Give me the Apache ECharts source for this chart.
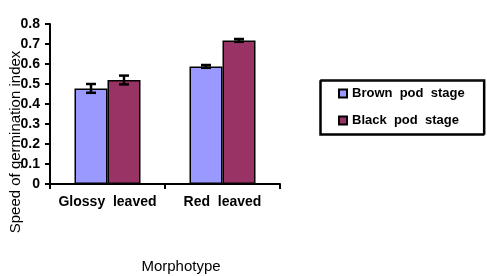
<!DOCTYPE html>
<html>
<head>
<meta charset="utf-8">
<script src="https://cdn.jsdelivr.net/npm/echarts@6/dist/echarts.min.js"></script>
<style>html,body{margin:0;padding:0;background:#fff}#c{width:487px;height:276px}</style>
</head>
<body>
<div id="c"></div>
<script>
var categories = ['Glossy leaved', 'Red leaved'];
var seriesNames = ['Brown pod stage', 'Black pod stage'];
var brownValues = [0.478, 0.588];
var blackValues = [0.520, 0.718];
var brownErrors = [0.022, 0.007];
var blackErrors = [0.022, 0.007];
var yTickLabels = ['0', '0.1', '0.2', '0.3', '0.4', '0.5', '0.6', '0.7', '0.8'];

var colors = ['#9999FF', '#993366'];
var barW = 33;
var font = 'Arial, "Liberation Sans", sans-serif';

function errSeries(values, errs, offset) {
  return {
    type: 'custom',
    silent: true,
    z: 10,
    data: values.map(function (v, i) { return [i, v, errs[i]]; }),
    renderItem: function (params, api) {
      var i = api.value(0), v = api.value(1), e = api.value(2);
      var hi = api.coord([i, v + e]);
      var lo = api.coord([i, v - e]);
      var x = hi[0] + offset;
      var cap = 5;
      var st = { stroke: '#000', lineWidth: 2.5 };
      return {
        type: 'group',
        children: [
          { type: 'line', shape: { x1: x, y1: hi[1], x2: x, y2: lo[1] }, style: st },
          { type: 'line', shape: { x1: x - cap, y1: hi[1], x2: x + cap, y2: hi[1] }, style: st },
          { type: 'line', shape: { x1: x - cap, y1: lo[1], x2: x + cap, y2: lo[1] }, style: st }
        ]
      };
    }
  };
}

var chart = echarts.init(document.getElementById('c'), null, { renderer: 'canvas' });
chart.setOption({
  animation: false,
  backgroundColor: '#fff',
  grid: { left: 50, top: 24, width: 230, height: 160 },
  legend: {
    data: seriesNames,
    orient: 'vertical',
    left: 321, top: 80,
    padding: [7, 20, 7, 17],
    itemGap: 14,
    itemWidth: 8, itemHeight: 8,
    icon: 'rect',
    backgroundColor: '#fff',
    borderColor: '#000', borderWidth: 1.5,
    shadowColor: '#000', shadowBlur: 0, shadowOffsetX: -1, shadowOffsetY: 1,
    textStyle: { fontFamily: font, fontWeight: 'bold', fontSize: 13, color: '#000' },
    formatter: function (n) { return n.replace(/ /g, '  '); }
  },
  xAxis: {
    type: 'category',
    data: categories,
    boundaryGap: true,
    axisLine: { lineStyle: { color: '#000', width: 2 } },
    axisTick: { show: true, length: 5, lineStyle: { color: '#000', width: 2 } },
    axisLabel: {
      interval: 0,
      fontFamily: font, fontWeight: 'bold', fontSize: 14, color: '#000', margin: 11,
      formatter: function (n) { return n.replace(/ /g, '  '); }
    }
  },
  yAxis: {
    type: 'value',
    min: 0, max: 0.8, interval: 0.1,
    splitLine: { show: false },
    axisLine: { show: true, lineStyle: { color: '#000', width: 2 } },
    axisTick: { show: true, length: 5, lineStyle: { color: '#000', width: 2 } },
    axisLabel: {
      fontFamily: font, fontWeight: 'bold', fontSize: 14, color: '#000', margin: 10,
      formatter: function (v) { return yTickLabels[Math.round(v * 10)]; }
    }
  },
  graphic: [
    { type: 'text', x: 16, y: 142, rotation: Math.PI / 2, z: 100,
      style: { text: 'Speed of germination index', fontFamily: font, fontSize: 15, fill: '#000', textAlign: 'center', textVerticalAlign: 'middle' } },
    { type: 'text', x: 181, y: 267,
      style: { text: 'Morphotype', fontFamily: font, fontSize: 15, fill: '#000', textAlign: 'center', textVerticalAlign: 'middle' } }
  ],
  series: [
    { name: seriesNames[0], type: 'bar', data: brownValues, barWidth: barW, barGap: '0%',
      itemStyle: { color: colors[0], borderColor: '#000', borderWidth: 1.5 } },
    { name: seriesNames[1], type: 'bar', data: blackValues, barWidth: barW, barGap: '0%',
      itemStyle: { color: colors[1], borderColor: '#000', borderWidth: 1.5 } },
    errSeries(brownValues, brownErrors, -barW / 2),
    errSeries(blackValues, blackErrors, barW / 2)
  ]
});
</script>
</body>
</html>
